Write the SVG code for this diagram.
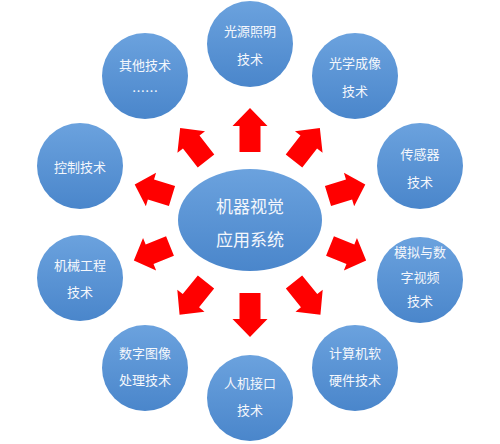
<svg xmlns="http://www.w3.org/2000/svg" width="500" height="444" viewBox="0 0 500 444">
<defs>
<linearGradient id="g" x1="0" y1="0" x2="0" y2="1">
<stop offset="0" stop-color="#6ba2de"/>
<stop offset="1" stop-color="#4a86cb"/>
</linearGradient>
<path id="arL" d="M0,-10.5 L24,-10.5 L24,-17.5 L42,0 L24,17.5 L24,10.5 L0,10.5 Z"/>
<path id="arM" d="M0,-10.5 L22,-10.5 L22,-17.5 L39,0 L22,17.5 L22,10.5 L0,10.5 Z"/>
<path id="arU" d="M0,-10.5 L26,-10.5 L26,-17.5 L44,0 L26,17.5 L26,10.5 L0,10.5 Z"/>
</defs>
<style>
.n{fill:url(#g)}
.t{font-family:"Noto Sans CJK SC","Noto Sans",sans-serif;font-size:13px;fill:#f4f7fc;text-anchor:middle}
.c{font-family:"Noto Sans CJK SC","Noto Sans",sans-serif;font-size:17px;fill:#f4f7fc;text-anchor:middle}
.a{fill:#ff0000}
</style>
<rect width="500" height="444" fill="#ffffff"/>
<g id="connectors">
<use href="#arU" class="a" transform="translate(250,152) rotate(-90)"/>
<use href="#arL" class="a" transform="translate(294,161) rotate(-52)"/>
<use href="#arM" class="a" transform="translate(328,196) rotate(-17)"/>
<use href="#arM" class="a" transform="translate(330,246) rotate(22)"/>
<use href="#arL" class="a" transform="translate(294,282) rotate(51)"/>
<use href="#arU" class="a" transform="translate(250,293) rotate(90)"/>
<use href="#arL" class="a" transform="translate(206,282) rotate(129)"/>
<use href="#arM" class="a" transform="translate(170,246) rotate(158)"/>
<use href="#arM" class="a" transform="translate(172,196) rotate(-163)"/>
<use href="#arL" class="a" transform="translate(206,161) rotate(-128)"/>
</g>
<g id="center">
<ellipse class="n" cx="250" cy="220" rx="72" ry="51"/>
<text class="c" x="250" y="213">机器视觉</text>
<text class="c" x="250" y="246">应用系统</text>
</g>
<g id="n1"><circle class="n" cx="250" cy="44" r="43"/><text class="t" x="250" y="36">光源照明</text><text class="t" x="250" y="64">技术</text></g>
<g id="n2"><circle class="n" cx="355" cy="76" r="43"/><text class="t" x="355" y="68">光学成像</text><text class="t" x="355" y="96">技术</text></g>
<g id="n3"><circle class="n" cx="420" cy="166" r="43"/><text class="t" x="420" y="159">传感器</text><text class="t" x="420" y="187">技术</text></g>
<g id="n4"><circle class="n" cx="420" cy="280" r="43"/><text class="t" x="420" y="257">模拟与数</text><text class="t" x="420" y="282">字视频</text><text class="t" x="420" y="306">技术</text></g>
<g id="n5"><circle class="n" cx="355" cy="368" r="43"/><text class="t" x="355" y="358">计算机软</text><text class="t" x="355" y="385">硬件技术</text></g>
<g id="n6"><circle class="n" cx="250" cy="398" r="43"/><text class="t" x="250" y="388">人机接口</text><text class="t" x="250" y="415">技术</text></g>
<g id="n7"><circle class="n" cx="145" cy="368" r="43"/><text class="t" x="145" y="358">数字图像</text><text class="t" x="145" y="385">处理技术</text></g>
<g id="n8"><circle class="n" cx="80" cy="278" r="43"/><text class="t" x="80" y="270">机械工程</text><text class="t" x="80" y="297">技术</text></g>
<g id="n9"><circle class="n" cx="80" cy="166" r="43"/><text class="t" x="80" y="172">控制技术</text></g>
<g id="n10"><circle class="n" cx="145" cy="76" r="43"/><text class="t" x="145" y="70">其他技术</text><text class="t" x="145" y="96">……</text></g>
</svg>
